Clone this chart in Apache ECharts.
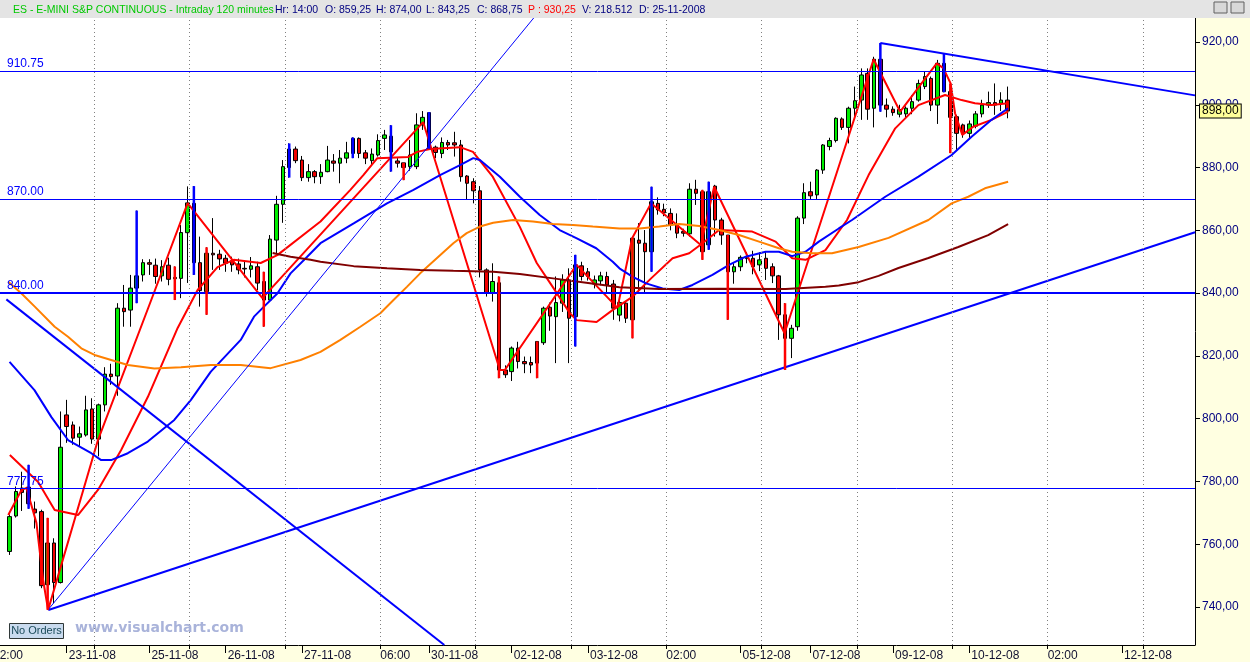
<!DOCTYPE html>
<html><head><meta charset="utf-8">
<script src="https://cdn.jsdelivr.net/npm/echarts@6/dist/echarts.min.js"></script>
<style>html,body{margin:0;padding:0;background:#FFFFE1}#c{width:1250px;height:662px}</style>
</head><body><div id="c"></div>
<script>
// ---------- DATA ----------
const candleOpen = [757.7,769.0,777.9,778.2,771.2,770.4,747.1,760.4,747.8,801.2,
798.0,794.1,794.8,803.1,793.5,804.4,814.2,813.6,835.2,834.6,
841.6,845.8,849.7,848.9,845.5,848.9,845.0,844.7,859.25,868.6,
849.7,840.5,852.7,852.4,851.1,850.3,849.3,847.9,847.6,848.4,
843.7,837.8,856.9,868.3,880.0,885.9,882.4,876.8,878.7,877.1,
878.7,882.1,881.4,883.0,884.5,889.3,884.7,882.2,884.0,889.3,
885.0,882.1,881.5,880.3,880.3,893.6,897.5,886.5,884.5,888.0,
887.9,887.2,877.3,875.5,872.6,847.4,840.2,843.3,815.5,815.0,
822.5,818.2,817.9,817.7,824.2,835.5,832.5,836.8,844.2,832.5,
848.7,846.8,842.9,843.9,845.3,842.9,833.0,836.8,831.5,856.9,
855.9,853.2,868.6,866.7,865.4,861.7,859.6,858.9,873.1,872.3,
855.4,874.1,863.3,858.5,846.8,848.4,851.0,851.1,849.0,851.1,
848.4,845.5,833.1,825.6,829.3,863.9,872.3,871.3,879.2,886.7,
888.6,895.5,892.8,898.9,901.5,910.0,898.9,914.5,899.9,898.6,
897.0,897.1,898.9,901.5,905.8,908.4,899.9,913.2,904.2,896.2,
893.6,890.9,893.2,897.1,899.9,900.7,900.5,901.5];
const candleClose = [768.8,776.8,776.5,772.9,770.0,746.8,760.4,747.8,790.9,797.5,
793.8,795.2,802.8,793.5,804.4,814.2,813.4,835.2,834.1,841.6,
845.5,849.7,849.2,845.3,848.4,844.4,844.6,859.3,868.75,849.7,
840.8,852.7,852.2,850.9,849.5,849.0,847.4,847.7,848.7,843.2,
837.8,857.2,868.3,880.3,885.9,882.2,876.8,878.7,877.1,878.5,
882.4,881.4,883.0,884.7,889.3,884.5,883.0,884.3,888.6,890.4,
890.0,881.4,880.0,884.0,893.6,896.0,886.0,884.8,888.0,887.2,
887.2,877.1,875.0,872.6,847.4,840.2,843.7,815.5,814.0,822.5,
818.2,817.5,817.1,824.6,835.2,832.7,837.0,844.2,832.0,849.0,
845.3,845.3,844.2,845.5,842.6,835.2,837.0,832.0,857.5,855.9,
853.2,869.1,866.5,865.6,861.7,859.1,859.1,873.1,871.8,853.2,
872.3,863.3,858.5,846.8,848.4,851.4,851.3,848.4,850.6,847.9,
845.5,833.1,825.6,828.8,863.9,872.0,871.0,879.2,887.2,888.6,
895.7,892.8,898.9,901.3,909.5,898.6,914.5,899.9,898.6,897.5,
898.5,898.9,901.0,906.8,909.0,899.9,913.2,904.2,896.0,890.9,
890.9,893.9,897.1,899.9,900.7,899.9,901.5,898.0];
const candleLow = [756.6,768.5,770.6,771.3,765.0,746.0,739.1,741.2,747.5,792.3,
791.7,791.1,794.3,792.0,788.0,802.3,810.8,807.3,829.3,829.3,
836.8,843.7,845.8,843.0,843.7,842.5,837.8,838.4,843.25,845.8,
835.7,833.1,847.4,847.4,846.8,846.8,846.0,845.0,845.0,841.0,
829.3,837.3,852.7,862.4,876.8,881.4,875.7,875.5,875.0,874.8,
878.5,878.7,875.0,881.4,883.0,883.0,881.1,880.8,883.5,885.6,
878.7,880.0,876.0,879.0,879.5,892.0,886.0,883.0,883.0,885.6,
883.5,875.5,869.7,868.6,845.0,838.9,837.3,812.9,813.0,812.0,
816.0,814.5,814.5,812.9,823.5,828.0,817.7,834.0,817.7,823.0,
844.0,844.0,841.5,842.5,840.2,831.5,831.0,830.5,825.6,840.0,
840.0,846.8,865.0,864.5,860.0,857.5,858.0,858.0,868.1,850.6,
853.8,858.0,855.4,831.5,843.0,847.0,849.5,846.0,847.0,844.2,
843.2,825.1,815.5,819.3,828.0,862.0,869.7,870.0,878.0,885.5,
888.0,892.0,887.7,895.2,895.2,895.2,892.8,897.8,896.0,896.5,
896.0,896.0,897.0,901.0,905.0,898.0,893.9,904.0,884.6,885.6,
889.5,889.0,892.5,896.0,899.0,896.8,898.0,895.7];
const candleHigh = [769.5,778.4,783.1,785.3,773.6,771.0,768.4,761.9,802.3,806.0,
799.1,797.5,807.3,806.5,804.8,816.4,817.5,836.8,842.6,845.8,
866.3,850.8,850.8,851.0,850.5,851.3,848.5,861.7,874.0,874.1,
858.0,854.6,863.9,853.8,852.2,851.6,851.0,850.0,851.5,850.0,
846.8,858.5,871.0,882.4,887.7,886.7,883.7,881.1,879.2,881.1,
886.9,884.3,885.6,888.2,889.6,889.6,885.6,886.1,890.6,892.0,
893.5,883.0,881.5,888.8,897.3,898.0,897.7,887.0,889.6,888.8,
891.4,888.8,877.6,876.6,874.1,847.9,849.5,845.3,817.0,823.0,
824.5,819.8,819.8,824.6,835.7,837.0,845.3,846.0,847.9,852.2,
850.0,848.0,845.6,846.8,846.8,844.2,838.0,837.5,857.5,862.3,
860.1,873.9,870.5,868.5,867.0,865.4,860.5,875.0,876.1,872.9,
875.5,874.5,864.0,858.5,849.5,852.0,853.0,853.5,853.0,853.2,
849.5,845.8,836.8,829.9,864.5,875.0,875.5,879.5,887.5,889.5,
896.0,896.0,899.4,905.8,911.6,911.6,915.3,919.7,902.0,899.5,
900.0,899.5,903.0,908.0,910.5,909.0,914.3,916.4,906.8,896.8,
894.0,895.0,898.0,901.6,904.2,906.8,904.0,905.8];

// signal (paint) bars: [bar index, low, high]
const blueSignalBars = [[3,771.3,785.3],[20,836.8,866.3],[29,845.8,874.1],[44,876.8,887.7],[54,883.0,889.6],[60,878.7,893.5],[66,886.0,897.7],[89,823.0,852.2],[101,846.8,873.9],[110,853.8,875.5],[137,897.8,919.7],[147,904.0,916.4]];
const redSignalBars = [[6,739.1,768.4],[26,837.8,848.5],[31,833.1,854.6],[40,829.3,846.8],[62,876.0,881.5],[77,812.9,845.3],[83,812.9,824.6],[98,825.6,857.5],[109,850.6,872.9],[113,831.5,858.5],[122,815.5,836.8],[148,884.6,906.8]];

// indicator lines: [bar index, price]
const zigzagLine = [[-0.2,769.3],[1.88,777.3],[2.67,777.9],[4.23,766.8],[5.28,748.6],[6.07,739.1],[13.91,793.2],[22.89,841.0],[28.02,868.7],[39.78,838.4],[65.07,894.5],[77.14,815.5],[77.92,815.5],[89.21,849.0],[95.64,835.3],[97.95,857.5],[100.92,868.6],[108.76,855.3],[110.85,873.9],[121.93,827.2],[135.94,914.5],[140.12,897.8],[145.86,913.2],[146.91,911.7],[148.05,906.8],[148.75,897.3],[149.89,890.4],[151.61,893.0],[154.48,895.2],[157.1,897.8]];
const redMALine = [[0.05,788.4],[4.5,779.8],[7.1,770.9],[10.77,769.3],[13.91,777.3],[17.56,790.0],[21.75,806.9],[26.45,828.9],[29.59,841.0],[32.72,848.3],[35.28,850.6],[39.51,849.6],[42.13,852.1],[48.92,862.8],[53.62,872.9],[55.66,877.6],[57.86,883.0],[62.72,883.4],[64.13,885.0],[66.16,885.9],[70.87,886.5],[72.91,885.0],[76.04,877.0],[80.28,861.1],[82.94,849.6],[85.45,842.0],[88.12,833.7],[89.21,831.4],[92.35,830.8],[94.86,834.6],[98.04,838.9],[100.93,844.7],[104.31,851.1],[106.93,852.7],[109.02,855.9],[111.63,860.1],[116.85,859.6],[120.52,856.4],[123.13,851.1],[125.23,850.6],[128.36,853.7],[131.75,863.3],[135.15,877.6],[139.34,892.5],[142.99,899.9],[147.18,903.1],[149.78,901.5],[151.88,900.5],[154.49,899.9],[157.1,900.5]];
const blueMALine = [[0,818.1],[3.92,809.1],[6.59,800.5],[9.2,793.2],[12.86,789.0],[14.42,786.8],[15.99,786.8],[18.61,789.0],[21.75,792.7],[25.92,799.6],[28.54,806.0],[31.67,815.0],[36.37,825.1],[38.46,832.5],[40.03,835.7],[42.13,839.9],[44.21,846.3],[46.83,851.6],[48.92,855.9],[54.14,862.2],[59.38,868.6],[63.55,872.9],[67.73,877.6],[70.87,880.8],[72.95,883.0],[74.0,882.4],[77.14,877.1],[80.28,870.7],[83.41,864.9],[86.55,860.1],[89.17,857.5],[92.3,854.3],[94.9,850.0],[95.95,847.9],[98.04,845.2],[100.14,843.1],[102.74,841.5],[105.36,841.0],[107.45,842.6],[110.58,845.8],[113.2,849.0],[115.82,851.6],[118.95,853.2],[121.04,853.2],[123.13,851.8],[125.23,853.2],[127.32,856.4],[130.46,860.6],[132.54,863.3],[137.77,870.7],[143.0,877.1],[148.22,884.0],[151.35,889.8],[154.49,895.2],[157.1,898.9]];
const orangeMALine = [[-0.2,843.6],[1.88,839.9],[3.97,835.7],[7.1,829.3],[9.2,826.1],[11.29,822.4],[13.37,820.3],[15.99,818.7],[18.61,817.1],[22.78,816.0],[26.97,816.4],[31.67,817.1],[36.37,817.1],[41.08,816.1],[45.78,818.7],[48.92,821.3],[52.05,825.1],[55.19,829.3],[58.33,833.6],[60.41,837.8],[62.51,842.0],[64.6,846.3],[67.21,851.1],[69.82,855.9],[71.92,859.1],[74.0,861.2],[76.09,862.4],[79.22,863.3],[82.36,862.8],[85.5,862.0],[88.63,861.7],[91.77,861.2],[95.96,860.6],[99.09,860.6],[102.23,861.2],[105.36,862.0],[108.5,861.4],[111.63,860.1],[114.77,858.5],[117.91,856.4],[121.04,854.3],[123.13,853.2],[126.26,852.7],[129.4,852.7],[133.58,854.7],[138.29,857.6],[144.56,863.3],[148.21,868.6],[150.83,870.7],[153.45,873.4],[157.1,875.5]];
const maroonMALine = [[41.39,852.8],[44.21,851.6],[47.35,850.6],[48.92,850.0],[54.14,848.6],[59.38,847.9],[64.6,847.4],[69.82,847.1],[76.09,846.8],[80.28,846.1],[85.5,844.7],[90.73,843.3],[95.96,841.9],[102.23,841.3],[111.63,841.4],[122.09,841.3],[128.36,842.0],[130.46,842.4],[133.58,843.5],[136.72,845.5],[139.85,848.0],[144.56,851.2],[149.26,854.7],[153.96,858.5],[157.1,862.0]];

// drawn trend lines: [bar index, price]
const supportTrend = [[6.11,739.05],[186.5,859.4]];
const thinTrend = [[6.06,739.1],[82.46,927.65]];
const fallingTrend = [[-0.5,838.0],[68.4,727.9]];
const triangleTrend = [[137.0,919.7],[186.5,903.0]];

// horizontal levels
const levelValues = [910.75, 870.00, 840.00, 777.75];
const levelLabels = ['910.75', '870.00', '840.00', '777.75'];
const lastPrice = 898.00;

// axes
const yTickValues = [740,760,780,800,820,840,860,880,900,920];
const xLabelBars = [9,22,34,46,58,66,79,91,103,115,126,139,151,163,175];
const xLabelTexts = ['23-11-08','25-11-08','26-11-08','27-11-08','06:00','30-11-08','02-12-08','03-12-08','02:00','05-12-08','07-12-08','09-12-08','10-12-08','02:00','12-12-08'];
const dayStartBars = [9,22,34,46,66,79,91,115,126,139,151,175];
const gridBars = [13.3,28.3,43.3,58.3,73.3,88.3,103.3,118.3,133.3,148.3,163.3,178.3];

// ---------- CHART ----------
const SLOTS = 188; // one empty leading slot + bars + empty future slots
const categories = new Array(SLOTS).fill('');
xLabelBars.forEach((b, i) => { categories[b + 1] = xLabelTexts[i]; });
const dayTickSet = new Set(dayStartBars.map(b => b + 1));

const candleData = ['-'].concat(candleOpen.map((o, i) => [o, candleClose[i], candleLow[i], candleHigh[i]]));

const FONT = "'Liberation Sans', Arial, sans-serif";

function lineSeries(name, data, color, width, z) {
  return { name, type: 'line', xAxisIndex: 1, yAxisIndex: 0, data, symbol: 'none', smooth: false,
    clip: true, silent: true, z: z || 4, lineStyle: { color, width }, animation: false };
}
function signalSeries(name, data, color) {
  return { name, type: 'custom', xAxisIndex: 1, yAxisIndex: 0, data, z: 5, silent: true,
    encode: { x: 0, y: [1, 2] }, animation: false,
    renderItem: (params, api) => {
      const k = api.value(0);
      const top = api.coord([k, api.value(2)]);
      const bot = api.coord([k, api.value(1)]);
      return { type: 'rect', shape: { x: top[0] - 1.25, y: top[1], width: 2.5, height: bot[1] - top[1] }, style: { fill: color } };
    } };
}
const hdr = (x, text, fill) => ({ type: 'text', x, y: 10, z: 101,
  style: { text, fill, fontSize: 10.5, fontFamily: FONT, verticalAlign: 'middle' } });

const option = {
  animation: false,
  backgroundColor: '#FFFFE1',
  textStyle: { fontFamily: FONT },
  grid: { left: -1.6, right: 55, top: 18, bottom: 17, show: true, backgroundColor: '#FFFFFF', borderWidth: 0 },
  xAxis: [
    { type: 'category', data: categories, boundaryGap: true, position: 'bottom',
      axisLine: { show: true, onZero: false, lineStyle: { color: '#000', width: 1 } },
      axisTick: { show: true, alignWithLabel: true, interval: (i) => dayTickSet.has(i), length: 8, lineStyle: { color: '#000' } },
      axisLabel: { show: true, interval: 0, align: 'left', padding: [0, 0, 0, 2], margin: 5, color: '#101030', fontSize: 12, fontFamily: FONT, formatter: v => v },
      splitLine: { show: false } },
    { type: 'value', min: -1.5, max: SLOTS - 1.5, position: 'bottom',
      axisLine: { show: false, onZero: false }, axisLabel: { show: false }, splitLine: { show: false },
      axisTick: { show: true, customValues: gridBars, length: 4, lineStyle: { color: '#000' } } }
  ],
  yAxis: [{ type: 'value', position: 'right', min: 727.9, max: 927.65, splitNumber: 10,
    axisLine: { show: true, onZero: false, lineStyle: { color: '#000', width: 1 } },
    axisTick: { show: true, length: 5, customValues: yTickValues, lineStyle: { color: '#000' } },
    axisLabel: { customValues: yTickValues, margin: 7, color: '#000080', fontSize: 12, fontFamily: FONT,
      formatter: v => v.toFixed(2).replace('.', ',') },
    splitLine: { show: false } }],
  series: [
    { name: 'grid', type: 'line', xAxisIndex: 1, data: [[-1.5, 727.9]], symbol: 'none', z: 1, silent: true,
      lineStyle: { width: 0 },
      markLine: { silent: true, symbol: ['none', 'none'], label: { show: false }, animation: false,
        lineStyle: { color: '#808080', type: [1, 3], width: 1 },
        data: gridBars.map(b => ({ xAxis: b })) } },
    { name: 'levels', type: 'line', xAxisIndex: 1, data: [[-1.5, 727.9]], symbol: 'none', z: 2, silent: true,
      lineStyle: { width: 0 },
      markLine: { silent: true, symbol: ['none', 'none'], animation: false,
        lineStyle: { color: '#0000FF', type: 'solid', width: 1 },
        label: { show: true, position: 'insideStartTop', distance: [7, 1], color: '#0000FF', fontSize: 12, fontFamily: FONT },
        data: levelValues.map((v, i) => ({ yAxis: v, label: { formatter: levelLabels[i] },
          lineStyle: { width: v === 840 ? 2 : 1 } })) } },
    { name: 'ES', type: 'candlestick', xAxisIndex: 0, yAxisIndex: 0, data: candleData, barWidth: 4, z: 3, silent: true,
      itemStyle: { color: '#00EE00', color0: '#F00000', borderColor: '#000000', borderColor0: '#000000', borderWidth: 1 } },
    lineSeries('zigzag', zigzagLine, '#FF0000', 2),
    lineSeries('redMA', redMALine, '#FF0000', 2),
    lineSeries('blueMA', blueMALine, '#0000FF', 2),
    lineSeries('orangeMA', orangeMALine, '#FF8000', 2),
    lineSeries('maroonMA', maroonMALine, '#800000', 2),
    lineSeries('support', supportTrend, '#0000FF', 2),
    lineSeries('thin', thinTrend, '#0000FF', 1),
    lineSeries('falling', fallingTrend, '#0000FF', 2),
    lineSeries('triangle', triangleTrend, '#0000FF', 2),
    signalSeries('blueBars', blueSignalBars, '#0000FF'),
    signalSeries('redBars', redSignalBars, '#FF0000'),
    { name: 'last', type: 'line', xAxisIndex: 1, data: [[-1.5, 727.9]], symbol: 'none', z: 10, silent: true,
      lineStyle: { width: 0 },
      markLine: { silent: true, symbol: ['none', 'none'], animation: false,
        lineStyle: { color: 'rgba(0,0,0,0)', width: 1 },
        label: { show: true, position: 'end', distance: 5, color: '#000', fontSize: 12, fontFamily: FONT,
          backgroundColor: '#FFFF99', borderColor: '#000', borderWidth: 1, padding: [1, 2, 0, 2],
          formatter: lastPrice.toFixed(2).replace('.', ',') },
        data: [{ yAxis: lastPrice }] } }
  ],
  graphic: [
    { type: 'rect', shape: { x: 0, y: 0, width: 1250, height: 18 }, style: { fill: '#E4E4E4' }, z: 100, silent: true },
    { type: 'rect', shape: { x: 1214, y: 2, width: 13, height: 11 }, style: { fill: '#D8D8D8', stroke: '#606060', lineWidth: 1 }, z: 101 },
    { type: 'rect', shape: { x: 1231, y: 2, width: 13, height: 11 }, style: { fill: '#D8D8D8', stroke: '#606060', lineWidth: 1 }, z: 101 },
    hdr(13, 'ES - E-MINI S&P CONTINUOUS - Intraday 120 minutes', '#00C800'),
    hdr(275, 'Hr: 14:00', '#000080'),
    hdr(325, 'O: 859,25', '#000080'),
    hdr(376, 'H: 874,00', '#000080'),
    hdr(426, 'L: 843,25', '#000080'),
    hdr(477, 'C: 868,75', '#000080'),
    hdr(528, 'P : 930,25', '#FF0000'),
    hdr(582, 'V: 218.512', '#000080'),
    hdr(639, 'D: 25-11-2008', '#000080'),
    { type: 'text', x: -7, y: 650, z: 101, style: { text: '02:00', fill: '#101030', fontSize: 12, fontFamily: FONT, verticalAlign: 'top' } },
    { type: 'rect', shape: { x: 9.5, y: 623.5, width: 54, height: 15 }, style: { fill: '#C9DBEF', stroke: '#303838', lineWidth: 1 }, z: 101 },
    { type: 'text', x: 36.5, y: 631, z: 102, style: { text: 'No Orders', fill: '#1A4A5A', fontSize: 11, fontFamily: FONT, align: 'center', verticalAlign: 'middle' } },
    { type: 'text', x: 75, y: 628, z: 101, style: { text: 'www.visualchart.com', fill: '#A9B3DA', fontSize: 14, fontWeight: 'bold', fontFamily: "'DejaVu Sans', Verdana, sans-serif", verticalAlign: 'middle' } }
  ]
};

const chart = echarts.init(document.getElementById('c'), null, { renderer: 'canvas', width: 1250, height: 662 });
chart.setOption(option);
</script>
</body></html>
